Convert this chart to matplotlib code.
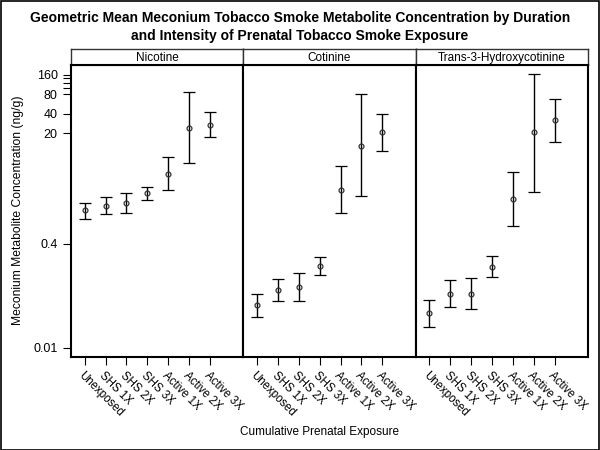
import numpy as np
import matplotlib.pyplot as plt
from matplotlib.patches import Rectangle

plt.rcParams['font.family'] = ['Liberation Sans', 'DejaVu Sans']

# Datos (media geometrica y limites del IC)
categorias = ['Unexposed', 'SHS 1X', 'SHS 2X', 'SHS 3X', 'Active 1X', 'Active 2X', 'Active 3X']
paneles = ['Nicotine', 'Cotinine', 'Trans-3-Hydroxycotinine']

nic_media = [1.31, 1.54, 1.71, 2.39, 4.78, 24.4, 26.9]
nic_inf = [0.97, 1.15, 1.19, 1.88, 2.65, 6.9, 17.4]
nic_sup = [1.71, 2.09, 2.39, 3.01, 8.7, 86.6, 43.1]

cot_media = [0.046, 0.077, 0.085, 0.183, 2.71, 12.9, 20.7]
cot_inf = [0.030, 0.052, 0.052, 0.130, 1.19, 2.17, 10.6]
cot_sup = [0.068, 0.116, 0.141, 0.252, 6.21, 80.7, 40.1]

hyd_media = [0.034, 0.068, 0.068, 0.177, 1.95, 20.7, 31.7]
hyd_inf = [0.021, 0.043, 0.039, 0.123, 0.74, 2.47, 14.9]
hyd_sup = [0.054, 0.109, 0.120, 0.261, 5.13, 165.6, 68.3]

datos = [(nic_media, nic_inf, nic_sup),
         (cot_media, cot_inf, cot_sup),
         (hyd_media, hyd_inf, hyd_sup)]

yticks = [0.01, 0.4, 20, 40, 80, 100, 120, 140, 160]
ytick_labels = ['0.01', '0.4', '20', '40', '80', '', '', '', '160']

fig = plt.figure(figsize=(6, 4.5), dpi=100)

W, H = 600.0, 450.0
x0, x1 = 71, 588
ybot, ytop, yhead = 356.7, 65, 49.3
ancho = (x1 - x0) / 3.0

x = np.arange(len(categorias))
for i, (nombre, (m, lo, hi)) in enumerate(zip(paneles, datos)):
    left = (x0 + i * ancho) / W
    ax = fig.add_axes([left, 1 - ybot / H, ancho / W, (ybot - ytop) / H])
    m = np.array(m); lo = np.array(lo); hi = np.array(hi)
    ax.errorbar(x, m, yerr=[m - lo, hi - m], fmt='o', ms=3.5, mfc='none', mec='#333333',
                mew=0.9, ecolor='black', elinewidth=1, capsize=4.5, capthick=1)
    ax.set_yscale('log')
    ax.set_ylim(0.00727, 225)
    ax.set_xlim(-0.66, 7.6)
    ax.set_xticks(x)
    ax.set_xticklabels(categorias, rotation=-45, ha='left', va='top',
                       rotation_mode='anchor', fontsize=8.3)
    ax.tick_params(axis='x', direction='out', length=6, width=0.8, pad=3)
    ax.minorticks_off()
    if i == 0:
        ax.set_yticks(yticks)
        ax.set_yticklabels(ytick_labels, fontsize=9)
        ax.tick_params(axis='y', direction='out', length=6, width=0.8)
    else:
        ax.set_yticks([])
    for s in ax.spines.values():
        s.set_linewidth(1.5)
    # cabecera del panel
    hax = fig.add_axes([left, 1 - ytop / H, ancho / W, (ytop - yhead) / H])
    hax.set_xticks([]); hax.set_yticks([])
    for s in hax.spines.values():
        s.set_linewidth(1.0)
        s.set_color('#333333')
    hax.spines['bottom'].set_linewidth(1.5)
    hax.spines['bottom'].set_color('black')
    hax.text(0.5, 0.45, nombre, ha='center', va='center', fontsize=8.5, transform=hax.transAxes)

fig.text(0.5, 1 - 18 / H, 'Geometric Mean Meconium Tobacco Smoke Metabolite Concentration by Duration',
         ha='center', va='center', fontsize=10, fontweight='bold')
fig.text(0.5, 1 - 36 / H, 'and Intensity of Prenatal Tobacco Smoke Exposure',
         ha='center', va='center', fontsize=10, fontweight='bold')
fig.text(18 / W, 1 - 210 / H, 'Meconium Metabolite Concentration (ng/g)', rotation=90,
         ha='center', va='center', fontsize=8.7)
fig.text(320 / W, 1 - 432 / H, 'Cumulative Prenatal Exposure',
         ha='center', va='center', fontsize=8.5)

fig.patches.append(Rectangle((0.001, 0.001), 0.997, 0.997, transform=fig.transFigure,
                             fill=False, edgecolor='black', linewidth=1.2))

plt.savefig('out.png', dpi=100)
